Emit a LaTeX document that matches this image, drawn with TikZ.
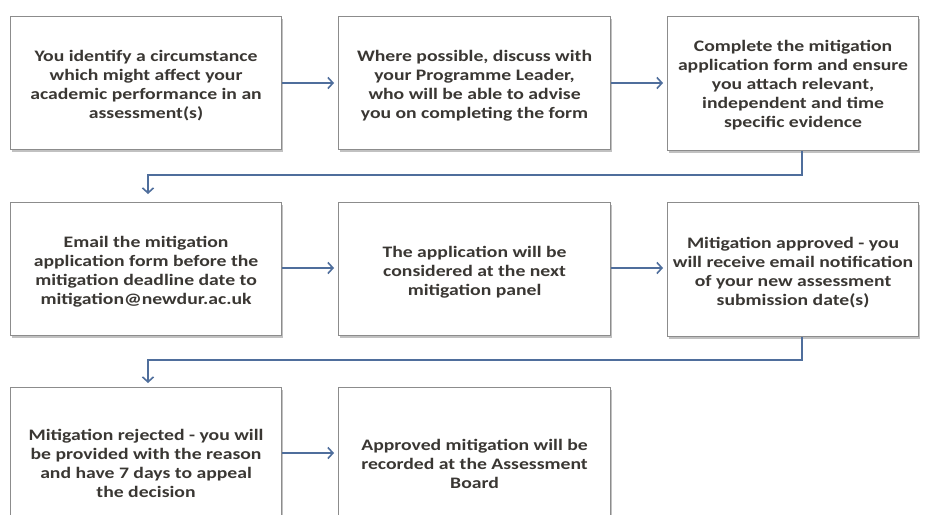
\documentclass[tikz,border=0pt]{standalone}
\usepackage{fontspec}
\setmainfont[FakeStretch=1.23]{Carlito}
\usetikzlibrary{arrows.meta,shadows}
\definecolor{arrowblue}{HTML}{4F6E9C}
\definecolor{boxline}{HTML}{8C8C8C}
\definecolor{txt}{HTML}{3A3733}
\tikzset{
  box/.style={draw=boxline, line width=1.1pt, fill=white, anchor=north west,
    minimum width=271pt, inner sep=0pt,
    drop shadow={shadow xshift=1.5pt, shadow yshift=-2pt, fill=black!40, opacity=0.6}},
  boxtext/.style={align=center, text=txt, inner sep=0pt, yshift=-3pt,
    font=\fontsize{16}{19}\selectfont\bfseries},
  arr/.style={draw=arrowblue, line width=1.6pt, -{Straight Barb[length=5pt,width=11pt,line width=1.6pt]}}
}
\begin{document}
\begin{tikzpicture}[x=1pt,y=-1pt]
\clip (0,0) rectangle (925,514);
\fill[white] (0,0) rectangle (925,514);
% row 1
\node[box, minimum height=133pt, label={[boxtext]center:{You identify a circumstance\\which might affect your\\academic performance in an\\assessment(s)}}] (b1) at (10,16) {};
\node[box, minimum height=133pt, minimum width=272pt, label={[boxtext]center:{Where possible, discuss with\\your Programme Leader,\\who will be able to advise\\you on completing the form}}] (b2) at (338,16) {};
\node[box, minimum height=134pt, minimum width=251pt, label={[boxtext, yshift=1pt]center:{Complete the mitigation\\application form and ensure\\you attach relevant,\\independent and time\\specific evidence}}] (b3) at (667,16) {};
% row 2
\node[box, minimum height=133pt, label={[boxtext]center:{Email the mitigation\\application form before the\\mitigation deadline date to\\mitigation@newdur.ac.uk}}] (b4) at (10,202) {};
\node[box, minimum height=133pt, minimum width=272pt, label={[boxtext]center:{The application will be\\considered at the next\\mitigation panel}}] (b5) at (338,202) {};
\node[box, minimum height=134pt, minimum width=251pt, label={[boxtext]center:{Mitigation approved - you\\will receive email notification\\of your new assessment\\submission date(s)}}] (b6) at (667,202) {};
% row 3
\node[box, minimum height=146pt, label={[boxtext]center:{Mitigation rejected - you will\\be provided with the reason\\and have 7 days to appeal\\the decision}}] (b7) at (10,387) {};
\node[box, minimum height=146pt, minimum width=272pt, label={[boxtext]center:{Approved mitigation will be\\recorded at the Assessment\\Board}}] (b8) at (338,387) {};
% connectors
\coordinate (r1) at (0,83);
\coordinate (r2) at (0,268);
\coordinate (r3) at (0,453);
\draw[arr, shorten >=4pt] (b1.east |- r1) -- (b2.west |- r1);
\draw[arr, shorten >=4pt] (b2.east |- r1) -- (b3.west |- r1);
\draw[arr, shorten >=4pt] (b4.east |- r2) -- (b5.west |- r2);
\draw[arr, shorten >=4pt] (b5.east |- r2) -- (b6.west |- r2);
\draw[arr, shorten >=4pt] (b7.east |- r3) -- (b8.west |- r3);
\coordinate (t1) at (802,175);
\coordinate (t2) at (148,175);
\draw[arr, shorten >=8pt] (b3.south -| t1) -- (t1) -- (t2) -- (t2 |- b4.north);
\coordinate (t3) at (802,360);
\coordinate (t4) at (148,360);
\draw[arr, shorten >=4pt] (b6.south -| t3) -- (t3) -- (t4) -- (t4 |- b7.north);
\end{tikzpicture}
\end{document}
